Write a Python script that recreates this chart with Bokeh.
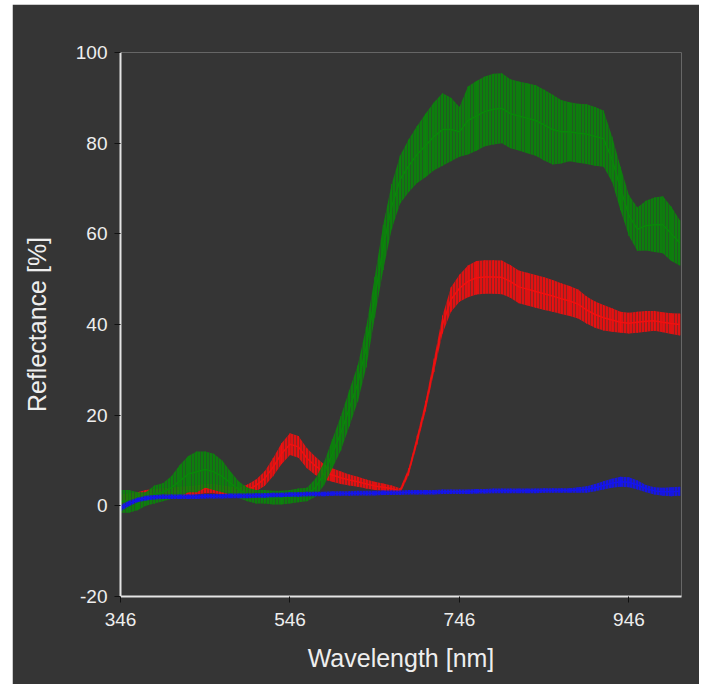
from bokeh.plotting import figure
from bokeh.models import Range1d, FixedTicker
from bokeh.embed import file_html
from bokeh.resources import INLINE

BG = "#353535"

wavelengths = list(range(346, 1007, 10))

green_mean = [1.0, 1.0, 1.0, 1.5, 2.5, 3.0, 4.0, 5.5, 7.0, 7.5, 8.0, 7.5, 6.5, 5.0, 3.5, 2.5,
              2.0, 2.0, 1.8, 1.8, 2.0, 2.3, 2.5, 4.0, 7.0, 11.5, 16.0, 21.5, 27.0, 35.0, 46.0, 57.0,
              66.0, 72.0, 75.0, 77.5, 79.5, 81.5, 83.0, 83.0, 82.5, 85.0, 86.0, 87.0, 87.5, 87.7,
              86.5, 86.0, 85.5, 85.0, 84.0, 83.0, 82.5, 82.5, 82.2, 82.0, 81.5, 81.0, 76.5, 70.0,
              64.0, 61.0, 61.8, 62.0, 62.0, 60.0, 58.0]
green_err = [2.5, 2.5, 2.0, 1.5, 2.0, 2.0, 2.5, 3.5, 4.0, 4.5, 4.0, 4.0, 3.5, 2.5, 1.8, 1.5,
             1.5, 1.5, 1.5, 1.5, 1.5, 1.5, 1.5, 2.0, 2.5, 3.2, 3.8, 4.0, 4.0, 4.5, 4.5, 5.0,
             5.0, 5.3, 5.8, 6.3, 7.0, 7.5, 8.0, 7.0, 5.5, 7.5, 7.7, 7.7, 7.8, 7.7,
             7.6, 7.6, 7.7, 7.8, 7.8, 7.7, 7.0, 6.5, 6.5, 6.6, 6.5, 6.2, 5.0, 4.8,
             4.5, 4.8, 5.5, 6.0, 6.3, 6.0, 5.0]

red_mean = [1.0, 1.5, 2.0, 2.5, 2.8, 3.0, 3.0, 3.2, 3.3, 3.5, 3.8, 3.8, 3.5, 3.2, 3.0, 3.5,
            4.5, 6.0, 8.5, 11.5, 13.6, 13.0, 10.5, 8.8, 7.5, 6.8, 6.2, 5.7, 5.3, 4.8, 4.4, 4.1,
            3.8, 3.3, 7.5, 14.5, 22.0, 31.0, 40.0, 45.5, 48.0, 49.5, 50.3, 50.5, 50.5, 50.4,
            49.5, 48.3, 47.8, 47.3, 46.8, 46.3, 45.7, 45.2, 44.5, 43.2, 42.2, 41.5, 41.0, 40.5,
            40.3, 40.5, 40.7, 40.8, 40.5, 40.2, 40.0]
red_err = [1.5, 1.2, 1.0, 1.0, 0.9, 0.9, 1.0, 1.0, 1.0, 1.0, 1.0, 1.0, 1.0, 1.0, 1.0, 1.2,
           1.3, 1.6, 2.0, 2.3, 2.4, 2.4, 2.2, 2.0, 1.7, 1.5, 1.4, 1.2, 1.1, 1.0, 0.9, 0.8,
           0.7, 0.6, 0.8, 1.0, 1.2, 1.5, 2.0, 2.7, 3.0, 3.5, 3.7, 3.7, 3.7, 3.7,
           3.6, 3.6, 3.6, 3.6, 3.6, 3.5, 3.4, 3.3, 3.2, 3.0, 2.9, 2.8, 2.6, 2.3,
           2.3, 2.3, 2.3, 2.2, 2.2, 2.3, 2.4]

blue_mean = [-0.5, 0.5, 1.3, 1.7, 1.9, 2.0, 2.0, 2.0, 2.0, 2.0, 2.1, 2.1, 2.1, 2.2, 2.2, 2.2,
             2.3, 2.3, 2.4, 2.4, 2.5, 2.5, 2.6, 2.6, 2.6, 2.7, 2.7, 2.7, 2.8, 2.8, 2.8, 2.9,
             2.9, 2.9, 3.0, 3.0, 3.0, 3.0, 3.1, 3.1, 3.1, 3.1, 3.2, 3.2, 3.3, 3.3,
             3.3, 3.3, 3.3, 3.3, 3.4, 3.4, 3.4, 3.4, 3.5, 3.6, 4.0, 4.5, 5.0, 5.3,
             5.2, 4.6, 3.8, 3.3, 3.1, 3.1, 3.2]
blue_err = [0.7, 0.6, 0.5, 0.5, 0.5, 0.5, 0.5, 0.5, 0.5, 0.5, 0.5, 0.5, 0.5, 0.5, 0.5, 0.5,
            0.5, 0.5, 0.5, 0.5, 0.5, 0.5, 0.5, 0.5, 0.5, 0.5, 0.5, 0.5, 0.5, 0.5, 0.5, 0.5,
            0.5, 0.5, 0.5, 0.5, 0.5, 0.5, 0.5, 0.5, 0.5, 0.5, 0.5, 0.5, 0.5, 0.5,
            0.5, 0.5, 0.5, 0.5, 0.5, 0.5, 0.5, 0.5, 0.6, 0.7, 0.8, 0.9, 1.0, 1.1,
            1.1, 1.0, 0.8, 0.8, 0.9, 1.0, 1.0]

x_ticks = [346, 546, 746, 946]
y_ticks = [-20, 0, 20, 40, 60, 80, 100]
y_tick_labels = {t: str(t) for t in y_ticks}

series = [
    (red_mean, red_err, "#f01010"),
    (green_mean, green_err, "#0a860a"),
    (blue_mean, blue_err, "#1414f0"),
]

p = figure(width=687, height=680, x_range=Range1d(346, 1008), y_range=Range1d(-20, 100),
           output_backend="svg", toolbar_location=None,
           background_fill_color=BG, border_fill_color=BG, outline_line_color=None,
           min_border_left=108, min_border_right=18, min_border_top=48, min_border_bottom=88)
p.margin = (4, 0, 0, 12)
p.grid.visible = False

for mean, err, col in series:
    upper = [m + e for m, e in zip(mean, err)]
    lower = [m - e for m, e in zip(mean, err)]
    p.varea(x=wavelengths, y1=lower, y2=upper, fill_color=col, fill_alpha=0.9,
            hatch_pattern="vertical_line", hatch_color=BG, hatch_alpha=0.45,
            hatch_scale=3, hatch_weight=1)
    p.segment(x0=wavelengths, y0=lower, x1=wavelengths, y1=upper, line_color=col, line_width=1)
    p.line(wavelengths, mean, line_color=col, line_width=1.5)

for ax in (p.xaxis[0], p.yaxis[0]):
    ax.axis_line_color = "#e4e4e4"
    ax.axis_line_width = 2
    ax.major_tick_line_color = "#111111"
    ax.major_tick_line_width = 1
    ax.major_tick_out = 6
    ax.major_tick_in = 0
    ax.minor_tick_line_color = None
    ax.major_label_text_color = "#eeeeee"
    ax.major_label_text_font = "Liberation Sans"
    ax.major_label_text_font_size = "19px"
    ax.axis_label_text_color = "#eeeeee"
    ax.axis_label_text_font = "Liberation Sans"
    ax.axis_label_text_font_size = "25px"
    ax.axis_label_text_font_style = "normal"

p.xaxis.ticker = FixedTicker(ticks=x_ticks)
p.yaxis.ticker = FixedTicker(ticks=y_ticks)
p.yaxis.major_label_overrides = y_tick_labels
p.xaxis.axis_label = "Wavelength [nm]"
p.yaxis.axis_label = "Reflectance [%]"
p.xaxis.major_label_standoff = 10
p.yaxis.major_label_standoff = 7
p.xaxis.axis_label_standoff = 15
p.yaxis.axis_label_standoff = 22

open("out.html", "w").write(file_html(p, INLINE))
